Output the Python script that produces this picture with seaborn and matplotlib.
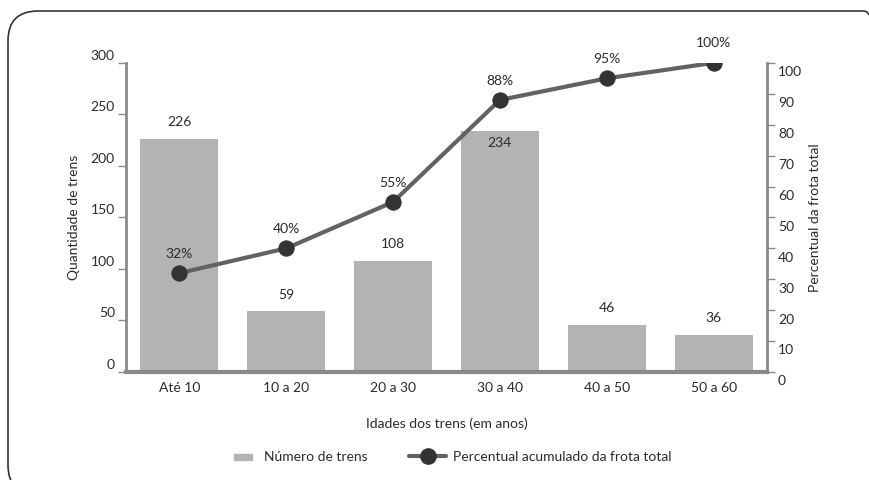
import matplotlib
matplotlib.use("Agg")
import numpy as np
import seaborn as sns
import matplotlib.pyplot as plt
import matplotlib.transforms as mtrans
from matplotlib.patches import FancyBboxPatch, Rectangle
from matplotlib.lines import Line2D
from matplotlib.legend_handler import HandlerPatch

faixas = ['Até 10', '10 a 20', '20 a 30', '30 a 40', '40 a 50', '50 a 60']
num_trens = [226, 59, 108, 234, 46, 36]
perc_acum = [32, 40, 55, 88, 95, 100]
perc_labels = ['32%', '40%', '55%', '88%', '95%', '100%']

BAR_COLOR = '#b3b3b3'
LINE_COLOR = '#626262'
DOT_COLOR = '#333333'
SPINE_COLOR = '#8a8a8a'
TEXT_COLOR = '#2b2b2b'

sns.set_style('white')
plt.rcParams['font.family'] = ['Lato', 'DejaVu Sans']
plt.rcParams['text.color'] = TEXT_COLOR
plt.rcParams['axes.labelcolor'] = TEXT_COLOR
plt.rcParams['xtick.color'] = TEXT_COLOR
plt.rcParams['ytick.color'] = TEXT_COLOR

fig = plt.figure(figsize=(8.7, 4.8), dpi=100)
ax = fig.add_axes([0.1448, 0.225, 0.7368, 0.644])

sns.barplot(x=faixas, y=num_trens, ax=ax, color=BAR_COLOR, width=0.73,
            saturation=1, edgecolor='none')
ax.set_xlim(-0.5, 5.5)
ax.set_ylim(0, 300)
ax.set_yticks(range(0, 301, 50))

ax2 = ax.twinx()
sns.lineplot(x=np.arange(len(faixas)), y=perc_acum, ax=ax2, color=LINE_COLOR,
             linewidth=3, marker='o', markersize=11, markerfacecolor=DOT_COLOR,
             markeredgecolor=DOT_COLOR)
ax2.set_xlim(-0.5, 5.5)
ax2.set_ylim(0, 100)
ax2.set_yticks(range(0, 101, 10))

# spines
for a in (ax, ax2):
    for s in a.spines.values():
        s.set_visible(False)
ax.spines['left'].set_visible(True)
ax.spines['left'].set_color(SPINE_COLOR)
ax.spines['left'].set_linewidth(2)
ax.spines['bottom'].set_visible(True)
ax.spines['bottom'].set_color(SPINE_COLOR)
ax.spines['bottom'].set_linewidth(3)
ax2.spines['right'].set_visible(True)
ax2.spines['right'].set_color(SPINE_COLOR)
ax2.spines['right'].set_linewidth(2)

ax.tick_params(axis='y', direction='out', length=6, width=1, color=SPINE_COLOR,
               pad=2, labelsize=10, left=True)
ax.tick_params(axis='x', length=0, pad=7, labelsize=10)
ax2.tick_params(axis='y', direction='out', length=6, width=1, color=SPINE_COLOR,
                pad=2, labelsize=10, right=True)

up = mtrans.ScaledTranslation(0, 6 / 72, fig.dpi_scale_trans)
down = mtrans.ScaledTranslation(0, -6 / 72, fig.dpi_scale_trans)
for lbl in ax.get_yticklabels():
    lbl.set_transform(lbl.get_transform() + up)
for lbl in ax2.get_yticklabels():
    lbl.set_transform(lbl.get_transform() + down)

ax.set_xlabel('Idades dos trens (em anos)', fontsize=10, labelpad=17)
ax.set_ylabel('Quantidade de trens', fontsize=10, labelpad=8)
ax2.set_ylabel('Percentual da frota total', fontsize=10, labelpad=5)

# bar value labels
for i, v in enumerate(num_trens):
    off = -9 if i == 3 else 12
    ax.annotate(str(v), (i, v), xytext=(0, off), textcoords='offset points',
                ha='center', va='center', fontsize=10)

# percentage labels
for i, (p, t) in enumerate(zip(perc_acum, perc_labels)):
    ax2.annotate(t, (i, p), xytext=(0, 14), textcoords='offset points',
                 ha='center', va='center', fontsize=10)


def small_rect(legend, orig_handle, xdescent, ydescent, width, height, fontsize):
    return Rectangle((xdescent + width * 0.4, ydescent + height * 0.15),
                     width * 0.48, height * 0.6)


handles = [Rectangle((0, 0), 1, 1, color=BAR_COLOR),
           Line2D([], [], color=LINE_COLOR, linewidth=3, marker='o',
                  markersize=11, markerfacecolor=DOT_COLOR,
                  markeredgecolor=DOT_COLOR)]
fig.legend(handles, ['Número de trens', 'Percentual acumulado da frota total'],
           loc='center', bbox_to_anchor=(0.512, 0.048), ncol=2, frameon=False,
           fontsize=10, handlelength=2.7, columnspacing=3.0, handletextpad=0.5,
           handler_map={Rectangle: HandlerPatch(patch_func=small_rect)})

# rounded frame
frame = FancyBboxPatch((0.08, -0.15), 8.86, 4.84,
                       boxstyle='round,pad=0,rounding_size=0.3',
                       transform=fig.dpi_scale_trans, facecolor='none',
                       edgecolor='#333333', linewidth=1.2, clip_on=False)
fig.patches.append(frame)

fig.savefig('out.png', dpi=100)
